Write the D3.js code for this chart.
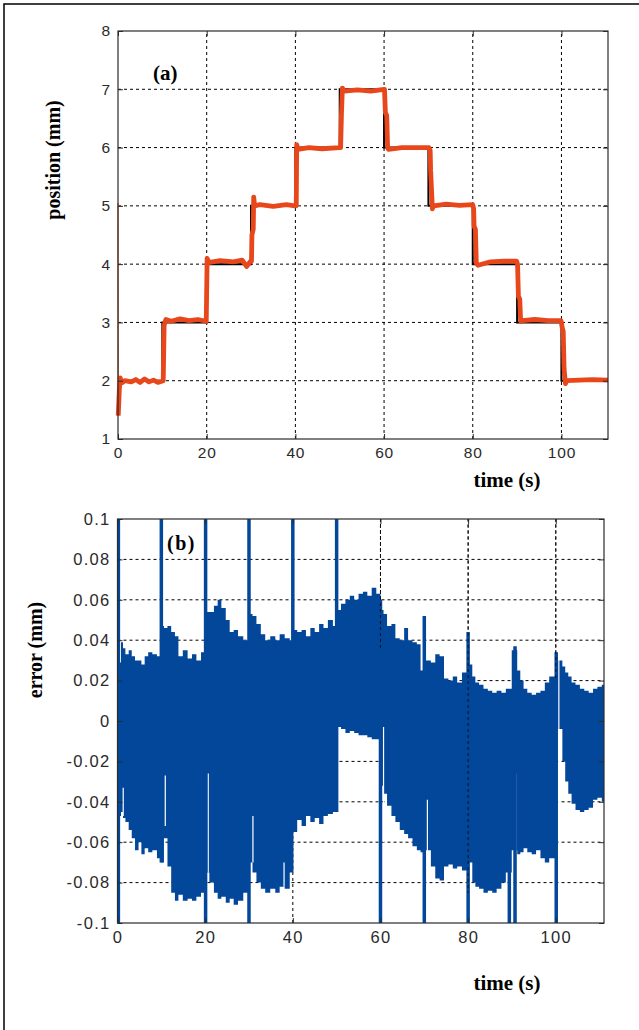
<!DOCTYPE html>
<html>
<head>
<meta charset="utf-8">
<script src="https://cdn.jsdelivr.net/npm/d3@7"></script>
<style>
  body { margin: 0; background: #fff; }
  svg { display: block; }
</style>
</head>
<body>
<svg id="fig" width="639" height="1030"></svg>
<script>
// ---- panel (a): position ----
const refTimes  = [0, 10, 20, 30, 40, 50, 60, 70, 80, 90, 100, 110.5];
const refLevels = [2, 3, 4, 5, 6, 7, 6, 5, 4, 3, 2, 2];

const posTimes = [0, 0.05, 0.3, 0.5, 0.8, 1.5, 3, 4, 5, 6, 7, 8, 9, 10.2,
  10.4, 10.8, 12, 14, 16, 18, 19.9,
  20.1, 20.3, 20.7, 23, 26, 28, 29, 29.9,
  30.1, 30.2, 30.5, 30.6, 30.8, 32, 35, 38, 39.9,
  40.2, 40.3, 40.6, 43, 46, 49.9,
  50.2, 50.4, 50.6, 51, 54, 57, 60,
  60.1, 60.3, 60.6, 60.8, 61, 64, 67, 70.1,
  70.4, 70.5, 70.9, 71.2, 74, 77, 80,
  80.2, 80.3, 80.6, 80.8, 81.2, 84, 87, 89.9,
  90.1, 90.3, 90.6, 90.8, 91.2, 94, 97, 99.9,
  100.2, 100.4, 100.6, 100.9, 101.2, 104, 107, 110.5];
const posValues = [5.05, 1.4, 1.85, 2.05, 1.96, 2.0, 1.98, 2.02, 1.97, 2.03, 1.98, 2.01, 1.97, 2.0,
  2.95, 3.05, 3.02, 3.06, 3.03, 3.05, 3.02,
  4.1, 4.06, 4.03, 4.06, 4.04, 4.07, 3.96, 4.05,
  4.05, 4.5, 4.6, 5.15, 5.0, 5.02, 4.99, 5.02, 5.0,
  5.0, 6.05, 5.97, 6.0, 5.98, 6.0,
  6.0, 6.6, 7.02, 6.97, 6.99, 6.97, 7.0,
  7.0, 6.6, 6.55, 6.0, 5.97, 6.0, 6.0, 6.0,
  5.95, 5.6, 4.95, 5.0, 5.03, 5.01, 5.02,
  4.95, 4.65, 4.6, 4.02, 3.98, 4.04, 4.05, 4.05,
  4.0, 3.45, 3.4, 3.02, 3.03, 3.05, 3.03, 3.03,
  2.9, 2.85, 2.2, 1.95, 2.0, 2.01, 2.02, 2.01];

const posXTicks = [0, 20, 40, 60, 80, 100];
const posYTicks = [1, 2, 3, 4, 5, 6, 7, 8];

// ---- panel (b): error ----
const errTimes = [0.3, 0.6, 1.0, 1.5, 2.1, 3.0, 3.5, 4.5, 5.1, 5.8, 6.6, 7.4, 8.5, 9.5,
  10.2, 11.0, 11.8, 12.7, 13.5, 14.3, 15.5, 16.5, 17.5, 18.5, 19.6,
  20.4, 21.5, 22.5, 23.2, 24.2, 25.2, 26.0, 27.0, 28.0, 29.4,
  30.4, 31.2, 32.2, 33.2, 34.2, 35.5, 36.5, 37.5, 38.8, 39.8,
  40.5, 41.5, 42.5, 43.5, 44.5, 45.5, 46.5, 47.5, 48.5, 49.8,
  50.5, 51.5, 52.5, 53.5, 54.5, 55.5, 56.5, 57.5, 58.5, 59.6,
  60.4, 61.0, 62.0, 63.0, 63.8, 65.0, 65.8, 66.8, 67.8, 68.8, 69.5,
  71.0, 72.0, 73.0, 74.0, 75.0, 76.0, 77.0, 78.0, 79.2,
  80.6, 81.3, 82.0, 83.0, 84.0, 85.0, 86.0, 87.0, 88.2, 89.0,
  90.9, 91.5, 92.3, 93.0, 94.0, 95.0, 96.0, 97.0, 98.0, 99.0,
  101.2, 101.8, 102.5, 103.2, 104.0, 105.0, 106.0, 107.0, 108.0, 109.0, 110.0, 111.0];
const errUpper = [0.03, 0.029, 0.039, 0.036, 0.033, 0.035, 0.032, 0.03, 0.030, 0.028, 0.032, 0.034, 0.033, 0.032,
  0.047, 0.046, 0.047, 0.044, 0.042, 0.032, 0.035, 0.031, 0.033, 0.030, 0.034,
  0.054, 0.054, 0.057, 0.060, 0.056, 0.050, 0.044, 0.045, 0.042, 0.040,
  0.053, 0.052, 0.048, 0.043, 0.040, 0.042, 0.040, 0.043, 0.041, 0.040,
  0.045, 0.044, 0.045, 0.042, 0.046, 0.044, 0.048, 0.046, 0.050, 0.047,
  0.055, 0.058, 0.060, 0.062, 0.060, 0.063, 0.064, 0.062, 0.066, 0.063,
  0.055, 0.053, 0.047, 0.048, 0.041, 0.040, 0.046, 0.040, 0.039, 0.038, 0.025,
  0.030, 0.029, 0.033, 0.032, 0.021, 0.020, 0.022, 0.019, 0.024,
  0.028, 0.022, 0.019, 0.018, 0.016, 0.015, 0.014, 0.015, 0.014, 0.016,
  0.035, 0.025, 0.020, 0.016, 0.014, 0.013, 0.014, 0.015, 0.019, 0.022,
  0.030, 0.027, 0.024, 0.022, 0.019, 0.018, 0.016, 0.015, 0.014, 0.016, 0.017, 0.018];
const errLower = [-0.035, -0.047, -0.045, -0.048, -0.05, -0.054, -0.058, -0.064, -0.06, -0.066, -0.063, -0.065, -0.064, -0.068,
  -0.07, -0.058, -0.072, -0.085, -0.089, -0.086, -0.089, -0.088, -0.089, -0.087, -0.085,
  -0.075, -0.08, -0.085, -0.088, -0.087, -0.09, -0.088, -0.091, -0.089, -0.085,
  -0.070, -0.075, -0.08, -0.083, -0.085, -0.083, -0.085, -0.082, -0.083, -0.075,
  -0.055, -0.049, -0.052, -0.047, -0.050, -0.048, -0.051, -0.047, -0.046, -0.045,
  -0.003, -0.004, -0.006, -0.005, -0.006, -0.007, -0.007, -0.008, -0.009, -0.009,
  -0.032, -0.036, -0.042, -0.047, -0.05, -0.054, -0.056, -0.058, -0.062, -0.064, -0.065,
  -0.064, -0.072, -0.078, -0.079, -0.072, -0.071, -0.073, -0.072, -0.074,
  -0.07, -0.08, -0.082, -0.083, -0.085, -0.084, -0.085, -0.083, -0.08, -0.075,
  -0.064, -0.066, -0.065, -0.063, -0.065, -0.066, -0.064, -0.068, -0.07, -0.068,
  -0.004, -0.02, -0.03, -0.036, -0.041, -0.044, -0.045, -0.044, -0.043, -0.039, -0.038, -0.04];

// transients at the set-point changes
const spikeTimes = [0.2, 10, 20.1, 30, 40, 50, 60, 70, 80, 89.4, 90.7, 100.1];
const spikeLow   = [-0.1, -0.07, -0.1, -0.1, -0.05, -0.045, -0.1, -0.1, -0.1, -0.1, -0.1, -0.1];
const spikeHigh  = [0.1, 0.1, 0.1, 0.1, 0.1, 0.1, 0.06, 0.052, 0.044, 0.015, 0.037, 0.034];

// thin white gaps inside the dense trace
const gapTimes = [1.3, 10.9, 20.7, 30.9, 38.0, 60.7, 70.7, 90.9, 100.7];
const gapLow   = [-0.047, -0.052, -0.075, -0.07, -0.082, -0.06, -0.07, -0.066, -0.055];
const gapHigh  = [-0.033, -0.027, -0.026, -0.047, -0.07, -0.003, -0.039, -0.026, 0.033];

// grid pieces that show through the trace
const gridOverTimes = [60, 80, 100];
const gridOverFrom  = [0.1, 0.1, 0.1];
const gridOverTo    = [0.035, -0.085, 0.02];

const errXTicks = [0, 20, 40, 60, 80, 100];
const errYTicks = [0.1, 0.08, 0.06, 0.04, 0.02, 0, -0.02, -0.04, -0.06, -0.08, -0.1];
const errYLabels = ['0.1', '0.08', '0.06', '0.04', '0.02', '0', '-0.02', '-0.04', '-0.06', '-0.08', '-0.1'];

const svg = d3.select('#fig');
const SANS = 'Liberation Sans, Arial, sans-serif';
const SERIF = 'Liberation Serif, Times New Roman, serif';

// outer frame of the figure
svg.append('rect')
    .attr('x', 4).attr('y', 4)
    .attr('width', 700).attr('height', 1100)
    .attr('fill', 'none')
    .attr('stroke', '#000')
    .attr('stroke-width', 1.5);

// dashed grid for one panel
function drawGrid(x, y, xTicks, yTicks) {
    let [x0, x1] = x.range();
    let [y0, y1] = y.range();
    let g = svg.append('g');

    g.selectAll('.vgrid')
        .data(xTicks.filter(d => d > x.domain()[0]))
        .join('line')
        .attr('x1', d => x(d)).attr('x2', d => x(d))
        .attr('y1', y0).attr('y2', y1)
        .attr('stroke', '#000')
        .attr('stroke-dasharray', '3,3');
    g.selectAll('.hgrid')
        .data(yTicks.filter(d => d > y.domain()[0] && d < y.domain()[1]))
        .join('line')
        .attr('x1', x0).attr('x2', x1)
        .attr('y1', d => y(d)).attr('y2', d => y(d))
        .attr('stroke', '#000')
        .attr('stroke-dasharray', '3,3');
    return g;
}

// box with inward ticks on all four sides
function drawAxes(x, y, xTicks, yTicks, xFmt, yFmt, fs, ls) {
    let [x0, x1] = x.range();
    let [y0, y1] = y.range();
    let g = svg.append('g');

    g.append('rect')
        .attr('x', x0).attr('y', y1)
        .attr('width', x1 - x0).attr('height', y0 - y1)
        .attr('fill', 'none')
        .attr('stroke', '#2a2a2a')
        .attr('stroke-width', 1.2);

    let bottom = g.append('g')
        .attr('transform', `translate(0,${y0})`)
        .call(d3.axisBottom(x).tickValues(xTicks).tickSizeInner(-5).tickSizeOuter(0).tickPadding(8).tickFormat(xFmt));
    let top = g.append('g')
        .attr('transform', `translate(0,${y1})`)
        .call(d3.axisTop(x).tickValues(xTicks).tickSizeInner(-5).tickSizeOuter(0).tickFormat(''));
    let left = g.append('g')
        .attr('transform', `translate(${x0},0)`)
        .call(d3.axisLeft(y).tickValues(yTicks).tickSizeInner(-5).tickSizeOuter(0).tickPadding(7).tickFormat(yFmt));
    let right = g.append('g')
        .attr('transform', `translate(${x1},0)`)
        .call(d3.axisRight(y).tickValues(yTicks).tickSizeInner(-5).tickSizeOuter(0).tickFormat(''));

    [bottom, top, left, right].forEach(a => {
        a.select('.domain').remove();
        a.selectAll('line').attr('stroke', '#2a2a2a');
        a.selectAll('text')
            .attr('fill', '#2a2a2a')
            .attr('font-family', SANS)
            .attr('font-size', fs)
            .attr('letter-spacing', ls);
    });
}

// ---------- panel (a) ----------
const xTop = d3.scaleLinear().domain([0, 110.5]).range([118, 608]);
const yTop = d3.scaleLinear().domain([1, 8]).range([439, 31]);

drawGrid(xTop, yTop, posXTicks, posYTicks);

// reference staircase
svg.append('path')
    .datum(refTimes.map((t, i) => [t, refLevels[i]]))
    .attr('d', d3.line().x(d => xTop(d[0])).y(d => yTop(d[1])).curve(d3.curveStepAfter))
    .attr('fill', 'none')
    .attr('stroke', '#000')
    .attr('stroke-width', 2);

// measured position
let posPts = posTimes.map((t, i) => [t, posValues[i]]);
let posLine = d3.line().x(d => xTop(d[0])).y(d => yTop(d[1]));
svg.append('path')
    .datum(posPts.slice(0, 2))
    .attr('d', posLine)
    .attr('fill', 'none')
    .attr('stroke', '#ee6a48')
    .attr('stroke-width', 1.4);
svg.append('path')
    .datum(posPts.slice(1))
    .attr('d', posLine)
    .attr('fill', 'none')
    .attr('stroke', '#e8471c')
    .attr('stroke-width', 4.8)
    .attr('stroke-linejoin', 'round');

drawAxes(xTop, yTop, posXTicks, posYTicks, d3.format('d'), d3.format('d'), 15.5, 0.8);

svg.append('text')
    .attr('x', 153).attr('y', 80)
    .attr('font-family', SERIF).attr('font-weight', 'bold').attr('font-size', 21)
    .text('(a)');
svg.append('text')
    .attr('transform', 'translate(60,160) rotate(-90)')
    .attr('text-anchor', 'middle')
    .attr('font-family', SERIF).attr('font-weight', 'bold').attr('font-size', 20)
    .text('position (mm)');
svg.append('text')
    .attr('x', 507).attr('y', 487)
    .attr('text-anchor', 'middle')
    .attr('font-family', SERIF).attr('font-weight', 'bold').attr('font-size', 21)
    .text('time (s)');

// ---------- panel (b) ----------
const xBot = d3.scaleLinear().domain([0, 111]).range([117.5, 604]);
const yBot = d3.scaleLinear().domain([-0.1, 0.1]).range([923, 519]);
const BLUE = '#03479a';

drawGrid(xBot, yBot, errXTicks, errYTicks);

svg.append('clipPath').attr('id', 'clipB')
    .append('rect')
    .attr('x', 117.5).attr('y', 519).attr('width', 604 - 117.5).attr('height', 923 - 519);

let errG = svg.append('g').attr('clip-path', 'url(#clipB)');

errG.append('path')
    .datum(errTimes.map((t, i) => ({t: t, hi: errUpper[i], lo: errLower[i]})))
    .attr('d', d3.area()
        .x(d => xBot(d.t))
        .y0(d => yBot(d.lo))
        .y1(d => yBot(d.hi))
        .curve(d3.curveStep))
    .attr('fill', BLUE);

errG.selectAll('.gap')
    .data(gapTimes)
    .join('line')
    .attr('x1', d => xBot(d)).attr('x2', d => xBot(d))
    .attr('y1', (d, i) => yBot(gapLow[i]))
    .attr('y2', (d, i) => yBot(gapHigh[i]))
    .attr('stroke', '#fff')
    .attr('stroke-width', 1.2);

errG.selectAll('.spike')
    .data(spikeTimes)
    .join('line')
    .attr('x1', d => xBot(d)).attr('x2', d => xBot(d))
    .attr('y1', (d, i) => yBot(spikeLow[i]))
    .attr('y2', (d, i) => yBot(spikeHigh[i]))
    .attr('stroke', BLUE)
    .attr('stroke-width', 3.5);

errG.selectAll('.gridOver')
    .data(gridOverTimes)
    .join('line')
    .attr('x1', d => xBot(d)).attr('x2', d => xBot(d))
    .attr('y1', (d, i) => yBot(gridOverFrom[i]))
    .attr('y2', (d, i) => yBot(gridOverTo[i]))
    .attr('stroke', '#111')
    .attr('stroke-dasharray', '3,3');

drawAxes(xBot, yBot, errXTicks, errYTicks, d3.format('d'), (d, i) => errYLabels[i], 16.5, 1.3);

svg.append('text')
    .attr('x', 167).attr('y', 550)
    .attr('font-family', SERIF).attr('font-weight', 'bold').attr('font-size', 20)
    .attr('letter-spacing', 1.5)
    .text('(b)');
svg.append('text')
    .attr('transform', 'translate(42,650) rotate(-90)')
    .attr('text-anchor', 'middle')
    .attr('font-family', SERIF).attr('font-weight', 'bold').attr('font-size', 20)
    .text('error (mm)');
svg.append('text')
    .attr('x', 507).attr('y', 990)
    .attr('text-anchor', 'middle')
    .attr('font-family', SERIF).attr('font-weight', 'bold').attr('font-size', 21)
    .text('time (s)');
</script>
</body>
</html>
